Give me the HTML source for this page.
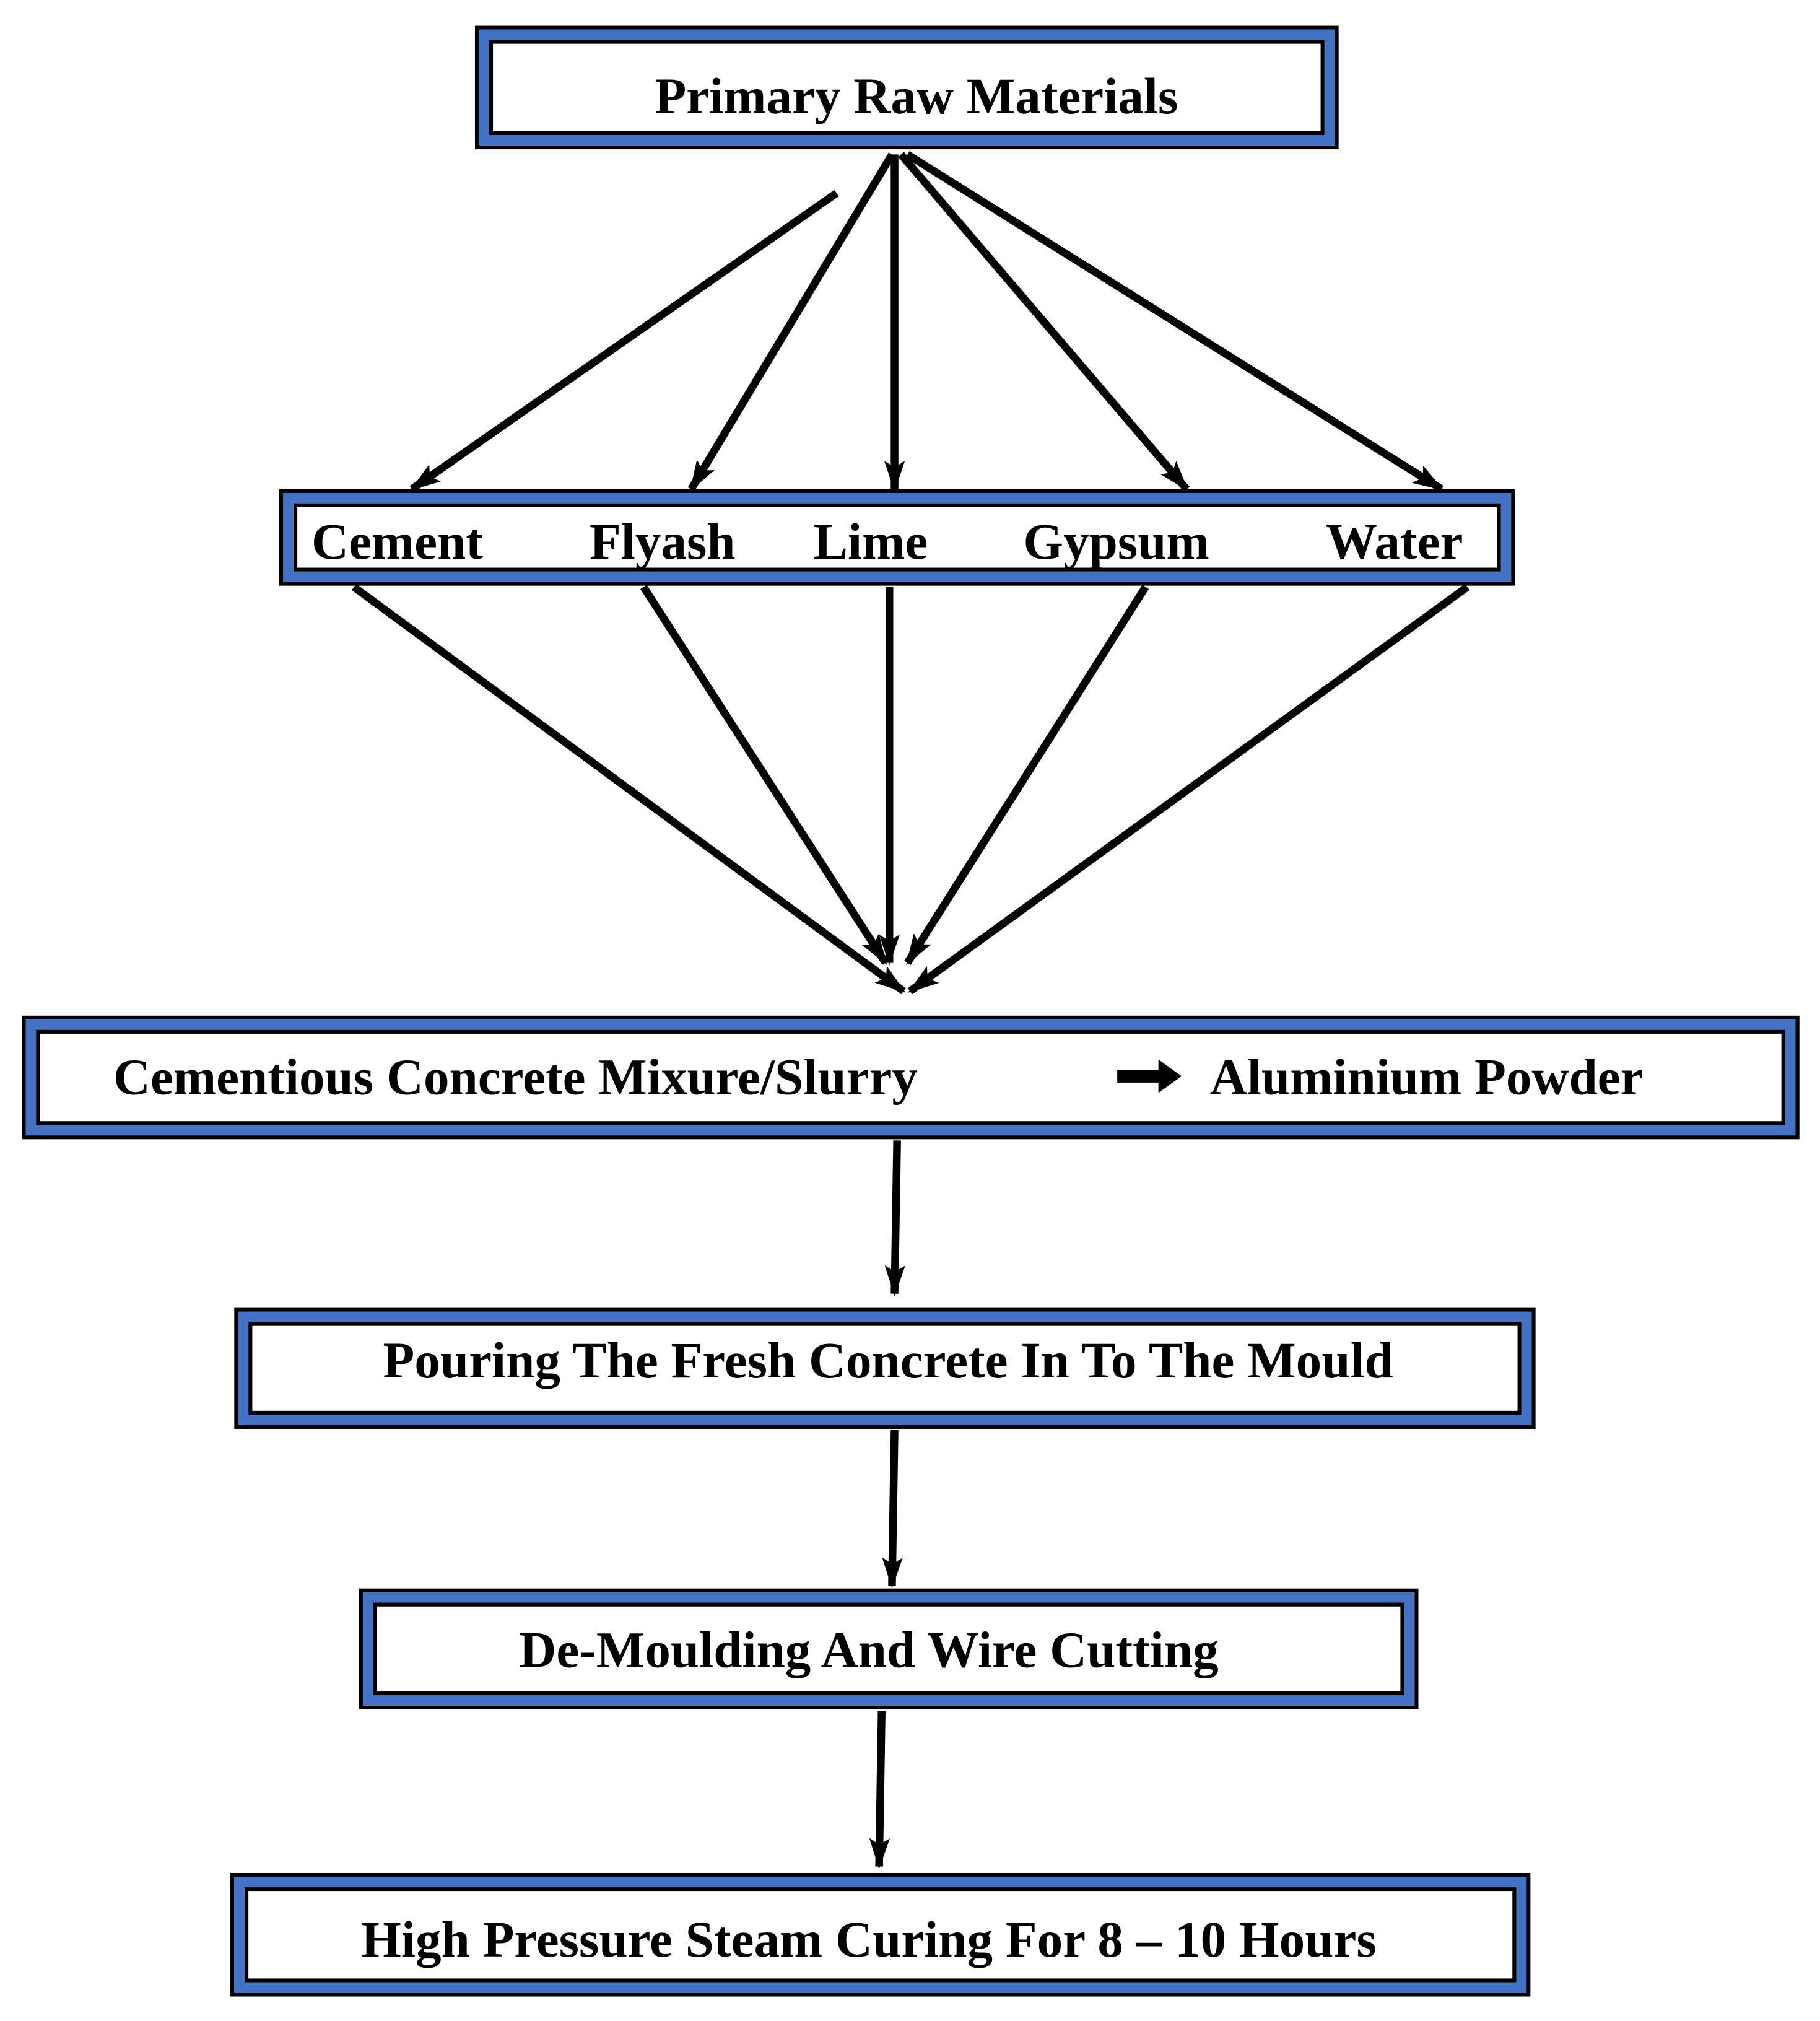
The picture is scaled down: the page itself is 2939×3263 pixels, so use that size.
<!DOCTYPE html>
<html><head><meta charset="utf-8"><style>
html,body{margin:0;padding:0;background:#fff;}
svg{display:block;}
text{font-family:"Liberation Serif",serif;font-weight:bold;font-size:40px;fill:#000;}
</style></head><body>
<svg width="2939" height="3263" viewBox="0 0 1414 1570" preserveAspectRatio="none" xmlns="http://www.w3.org/2000/svg">
<defs>
<marker id="ah" markerWidth="10" markerHeight="10" refX="9" refY="5" orient="auto" markerUnits="userSpaceOnUse" viewBox="0 0 10 10">
</marker>
<marker id="a" viewBox="0 0 24 16" refX="22" refY="8" markerWidth="24" markerHeight="16" orient="auto" markerUnits="userSpaceOnUse">
<path d="M0,0 L24,8 L0,16 L5,8 Z" fill="#000"/>
</marker>
</defs>
<g fill="none">
<!-- boxes: outer black, blue, inner black -->
<g>
<rect x="370.5" y="21.5" width="668" height="93" stroke="#000" stroke-width="3"/>
<rect x="376" y="27" width="657" height="82" stroke="#4472c4" stroke-width="8"/>
<rect x="381.5" y="32.5" width="646" height="71" stroke="#000" stroke-width="3"/>
</g>
<g>
<rect x="218.5" y="381.5" width="957" height="72" stroke="#000" stroke-width="3"/>
<rect x="224" y="387" width="946" height="61" stroke="#4472c4" stroke-width="8"/>
<rect x="229.5" y="392.5" width="935" height="50" stroke="#000" stroke-width="3"/>
</g>
<g>
<rect x="18.5" y="790.5" width="1378" height="93" stroke="#000" stroke-width="3"/>
<rect x="24" y="796" width="1367" height="82" stroke="#4472c4" stroke-width="8"/>
<rect x="29.5" y="801.5" width="1356" height="71" stroke="#000" stroke-width="3"/>
</g>
<g>
<rect x="183.5" y="1017.5" width="1008" height="91" stroke="#000" stroke-width="3"/>
<rect x="189" y="1023" width="997" height="80" stroke="#4472c4" stroke-width="8"/>
<rect x="194.5" y="1028.5" width="986" height="69" stroke="#000" stroke-width="3"/>
</g>
<g>
<rect x="280.5" y="1235.5" width="820" height="91" stroke="#000" stroke-width="3"/>
<rect x="286" y="1241" width="809" height="80" stroke="#4472c4" stroke-width="8"/>
<rect x="291.5" y="1246.5" width="798" height="69" stroke="#000" stroke-width="3"/>
</g>
<g>
<rect x="180.5" y="1456.5" width="1007" height="93" stroke="#000" stroke-width="3"/>
<rect x="186" y="1462" width="996" height="82" stroke="#4472c4" stroke-width="8"/>
<rect x="191.5" y="1467.5" width="985" height="71" stroke="#000" stroke-width="3"/>
</g>
</g>
<g stroke="#000" stroke-width="6" fill="none" marker-end="url(#a)">
<line x1="650" y1="150" x2="320" y2="380"/>
<line x1="693" y1="120" x2="537" y2="380"/>
<line x1="695" y1="120" x2="695" y2="380"/>
<line x1="700" y1="120" x2="922" y2="380"/>
<line x1="705" y1="120" x2="1120" y2="380"/>
<line x1="275" y1="456" x2="702" y2="770"/>
<line x1="500" y1="456" x2="688" y2="748"/>
<line x1="691" y1="456" x2="691" y2="748"/>
<line x1="890" y1="456" x2="705" y2="748"/>
<line x1="1140" y1="456" x2="707" y2="770"/>
<line x1="697" y1="886" x2="695" y2="1005"/>
<line x1="695" y1="1111" x2="693" y2="1232"/>
<line x1="685" y1="1329" x2="683" y2="1450"/>
</g>
<path d="M868,831 L900,831 L900,823 L918,836 L900,849 L900,841 L868,841 Z" fill="#000"/>
<text x="712" y="88" text-anchor="middle">Primary Raw Materials</text>
<text x="242" y="434">Cement</text>
<text x="458" y="434">Flyash</text>
<text x="632" y="434">Lime</text>
<text x="795" y="434">Gypsum</text>
<text x="1030" y="434">Water</text>
<text x="88" y="850">Cementious Concrete Mixure/Slurry</text>
<text x="940" y="850">Aluminium Powder</text>
<text x="690" y="1070" text-anchor="middle">Pouring The Fresh Concrete In To The Mould</text>
<text x="675" y="1295" text-anchor="middle">De-Moulding And Wire Cutting</text>
<text x="675" y="1520" text-anchor="middle">High Pressure Steam Curing For 8 – 10 Hours</text>
</svg>
</body></html>
